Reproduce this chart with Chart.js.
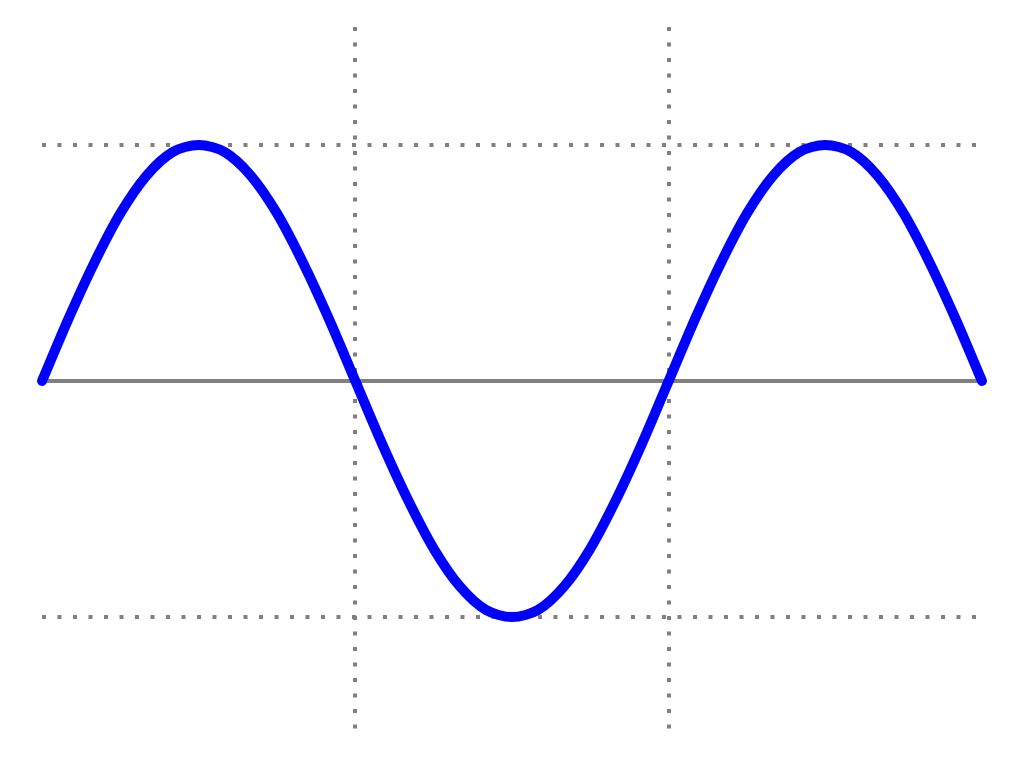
<!DOCTYPE html>
<html>
<head>
<meta charset="utf-8">
<script src="https://cdn.jsdelivr.net/npm/chart.js@4/dist/chart.umd.min.js"></script>
<style>
  html, body { margin: 0; padding: 0; background: #fff; }
  canvas { display: block; }
</style>
</head>
<body>
<canvas id="chart" width="1024" height="768"></canvas>
<script>
// phase in degrees
const angles = [0, 15, 30, 45, 60, 75, 90, 105, 120, 135, 150, 165, 180,
  195, 210, 225, 240, 255, 270, 285, 300, 315, 330, 345, 360,
  375, 390, 405, 420, 435, 450, 465, 480, 495, 510, 525, 540];
const amplitude = [0, 0.26, 0.5, 0.71, 0.87, 0.97, 1.0, 0.97, 0.87, 0.71, 0.5, 0.26, 0,
  -0.26, -0.5, -0.71, -0.87, -0.97, -1.0, -0.97, -0.87, -0.71, -0.5, -0.26, 0,
  0.26, 0.5, 0.71, 0.87, 0.97, 1.0, 0.97, 0.87, 0.71, 0.5, 0.26, 0];

// reference lines
const xGridTicks = [180, 360];
const yGridTicks = [-1, 1];
const zeroLineX = [0, 540];
const zeroLineY = [0, 0];

const ctx = document.getElementById('chart').getContext('2d');

new Chart(ctx, {
  type: 'line',
  data: {
    datasets: [
      {
        label: 'zero',
        data: zeroLineX.map((x, i) => ({ x, y: zeroLineY[i] })),
        borderColor: '#808080',
        borderWidth: 4,
        pointRadius: 0,
        fill: false,
        clip: false,
        order: 2,
      },
      {
        label: 'sine',
        data: angles.map((a, i) => ({ x: a, y: amplitude[i] })),
        borderColor: '#0000ff',
        borderWidth: 10,
        borderCapStyle: 'round',
        borderJoinStyle: 'round',
        pointRadius: 0,
        tension: 0.3,
        fill: false,
        clip: false,
        order: 1,
      },
    ],
  },
  options: {
    responsive: false,
    animation: false,
    layout: { padding: { left: 42, right: 42, top: 27, bottom: 33 } },
    plugins: {
      legend: { display: false },
      tooltip: { enabled: false },
    },
    scales: {
      x: {
        type: 'linear',
        min: 0,
        max: 540,
        afterBuildTicks: (axis) => { axis.ticks = xGridTicks.map(v => ({ value: v })); },
        ticks: { display: false },
        grid: { color: '#808080', lineWidth: 4, drawTicks: false },
        border: { display: false, dash: [4, 11.5] },
      },
      y: {
        min: -1.5,
        max: 1.5,
        afterBuildTicks: (axis) => { axis.ticks = yGridTicks.map(v => ({ value: v })); },
        ticks: { display: false },
        grid: { color: '#808080', lineWidth: 4, drawTicks: false },
        border: { display: false, dash: [4, 11.5] },
      },
    },
  },
});
</script>
</body>
</html>
